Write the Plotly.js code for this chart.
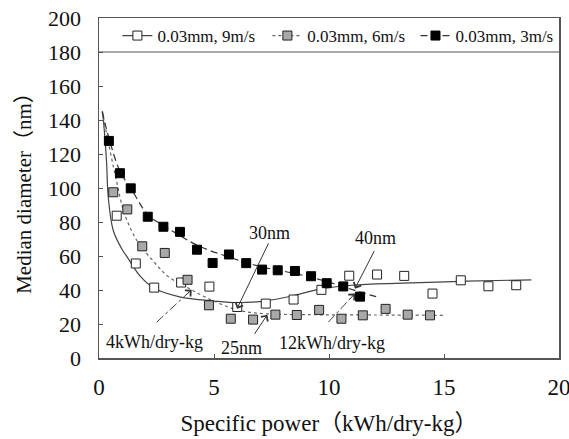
<!DOCTYPE html>
<html>
<head>
<meta charset="utf-8">
<script src="https://cdn.plot.ly/plotly-3.0.1.min.js"></script>
<style>
  html, body { margin: 0; padding: 0; background: #fff; }
  #chart { width: 569px; height: 439px; }
</style>
</head>
<body>
<div id="chart"></div>
<script>
// Measured median diameters (nm) versus specific power (kWh/dry-kg)
const seriesNames = ['0.03mm, 9m/s', '0.03mm, 6m/s', '0.03mm, 3m/s'];

const power9 = [0.77, 1.60, 2.40, 3.57, 4.80, 6.01, 7.25, 8.46, 9.67, 10.88, 12.09, 13.27, 14.50, 15.73, 16.93, 18.14];
const diam9  = [83.7, 55.6, 41.4, 44.4, 42.0, 30.0, 32.0, 34.4, 40.1, 48.4, 49.1, 48.3, 37.9, 45.7, 42.2, 42.8];

const power6 = [0.62, 1.23, 1.88, 2.86, 3.85, 4.78, 5.73, 6.70, 7.67, 8.60, 9.57, 10.54, 11.47, 12.46, 13.42, 14.39];
const diam6  = [97.5, 87.4, 65.7, 61.8, 46.0, 31.0, 23.1, 22.6, 25.5, 25.3, 28.3, 23.1, 25.1, 28.9, 25.5, 25.1];

const power3 = [0.43, 0.91, 1.38, 2.12, 2.80, 3.52, 4.26, 4.94, 5.65, 6.40, 7.09, 7.77, 8.52, 9.22, 9.90, 10.62, 11.35];
const diam3  = [127.7, 108.7, 99.8, 83.1, 77.2, 74.2, 63.7, 55.9, 60.9, 55.8, 52.0, 51.6, 51.2, 48.1, 44.0, 42.1, 36.1];

// Trend curves traced along each series
const fitPower9 = [0.15, 0.23, 0.33, 0.40, 0.62, 1.0, 1.27, 1.8, 2.4, 3.5, 5.0, 6.0, 7.2, 8.4, 9.6, 11.0, 13.2, 16.0, 18.8];
const fitDiam9  = [145, 134, 115, 95, 75, 64, 58.5, 48, 41, 36, 33.5, 32.5, 33.5, 36.5, 40.5, 42.8, 44, 45.2, 46];

const fitPower6 = [0.14, 0.33, 0.7, 1.13, 1.7, 2.36, 3.0, 3.9, 4.9, 6.1, 7.3, 9.0, 12.0, 15.0];
const fitDiam6  = [145, 132, 108, 84, 68, 57, 48, 41, 34, 28, 26, 25.5, 25.3, 25.1];

const fitPower3 = [0.14, 0.48, 0.91, 1.42, 2.14, 2.8, 3.52, 4.32, 5.62, 7.07, 8.52, 9.97, 11.3, 12.2];
const fitDiam3  = [145, 127, 110, 99, 84, 78, 72, 66, 59.5, 53.6, 49.7, 44.7, 39, 35.5];

const xTicks = [0, 5, 10, 15, 20];
const yTicks = [0, 20, 40, 60, 80, 100, 120, 140, 160, 180, 200];

const serif = 'Liberation Serif, "Noto Sans CJK JP", serif';
const axisColor = '#555';

const lineStyles = [
  { color: '#444', width: 1.2, dash: 'solid' },
  { color: '#666', width: 1.2, dash: '3px,3px' },
  { color: '#333', width: 1.2, dash: '7px,4px' }
];
const markerStyles = [
  { symbol: 'square', size: 9, color: '#ffffff', line: { color: '#222', width: 1 } },
  { symbol: 'square', size: 9, color: '#a8a8a8', line: { color: '#222', width: 1 } },
  { symbol: 'square', size: 9, color: '#000000', line: { color: '#000', width: 1 } }
];

const fits = [[fitPower9, fitDiam9], [fitPower6, fitDiam6], [fitPower3, fitDiam3]];
const points = [[power9, diam9], [power6, diam6], [power3, diam3]];
const legendIds = ['legend', 'legend2', 'legend3'];

const traces = [];
fits.forEach((f, i) => {
  traces.push({
    x: f[0], y: f[1], type: 'scatter', mode: 'lines',
    line: Object.assign({ shape: 'spline', smoothing: 1 }, lineStyles[i]),
    showlegend: false, hoverinfo: 'skip'
  });
});
points.forEach((p, i) => {
  traces.push({
    x: p[0], y: p[1], type: 'scatter', mode: 'markers',
    marker: markerStyles[i], showlegend: false
  });
});
// Legend keys: line plus marker for each series, one legend box per key
seriesNames.forEach((name, i) => {
  traces.push({
    x: [null], y: [null], type: 'scatter', mode: 'lines+markers', name: name,
    line: lineStyles[i], marker: markerStyles[i], legend: legendIds[i], showlegend: true
  });
});

const annFont = { family: serif, size: 18, color: '#111' };
const annotations = [
  // labels
  { x: 7.43, y: 73.5, text: '30nm', showarrow: false, font: annFont },
  { x: 12.0, y: 70.5, text: '40nm', showarrow: false, font: annFont },
  { x: 6.2, y: 5.6, text: '25nm', showarrow: false, font: annFont },
  { x: 2.43, y: 9.3, text: '4kWh/dry-kg', showarrow: false, font: annFont },
  { x: 10.13, y: 8.6, text: '12kWh/dry-kg', showarrow: false, font: annFont },
  // solid pointers
  { x: 6.0, y: 29, ax: 7.40, ay: 68.3, axref: 'x', ayref: 'y', text: '', showarrow: true,
    arrowhead: 4, arrowsize: 1.6, arrowwidth: 1, arrowcolor: '#333' },
  { x: 11.13, y: 40.8, ax: 12.0, ay: 63.8, axref: 'x', ayref: 'y', text: '', showarrow: true,
    arrowhead: 4, arrowsize: 1.6, arrowwidth: 1, arrowcolor: '#333' },
  { x: 7.32, y: 25.5, ax: 6.72, ay: 13.3, axref: 'x', ayref: 'y', text: '', showarrow: true,
    arrowhead: 4, arrowsize: 1.6, arrowwidth: 1, arrowcolor: '#333' },
  // heads for the dash-dot pointers
  { x: 4.03, y: 40.2, ax: -7.3, ay: 6.8, text: '', showarrow: true,
    arrowhead: 4, arrowsize: 1.6, arrowwidth: 1, arrowcolor: '#333' },
  { x: 11.13, y: 37.9, ax: -6.9, ay: 7.3, text: '', showarrow: true,
    arrowhead: 4, arrowsize: 1.6, arrowwidth: 1, arrowcolor: '#333' }
];

const shapes = [
  // rule under the legend row
  { type: 'line', xref: 'paper', yref: 'y', x0: 0, x1: 1, y0: 180, y1: 180,
    line: { color: axisColor, width: 1.2 } },
  // dash-dot pointer shafts
  { type: 'line', xref: 'x', yref: 'y', x0: 2.51, y0: 21.1, x1: 4.03, y1: 40.2,
    line: { color: '#444', width: 1, dash: 'dashdot' } },
  { type: 'line', xref: 'x', yref: 'y', x0: 9.97, y0: 21.1, x1: 11.13, y1: 37.9,
    line: { color: '#444', width: 1, dash: 'dashdot' } }
];

function legendBox(xPos) {
  return {
    orientation: 'h', x: xPos, y: 1.0, xanchor: 'left', yanchor: 'top',
    bgcolor: 'rgba(0,0,0,0)', borderwidth: 0,
    font: { family: serif, size: 17, color: '#111' }, itemwidth: 30
  };
}

const layout = {
  width: 569, height: 439,
  margin: { l: 99, r: 10, t: 18, b: 81 },
  paper_bgcolor: '#fff', plot_bgcolor: '#fff',
  font: { family: serif, color: '#111' },
  showlegend: true,
  legend: legendBox(0.04),
  legend2: legendBox(0.366),
  legend3: legendBox(0.688),
  xaxis: {
    range: [0, 20], tickvals: xTicks, ticktext: xTicks.map(String),
    ticks: 'inside', ticklen: 4, tickcolor: axisColor, ticklabelstandoff: 8,
    ticklabeloverflow: 'allow',
    showline: true, linecolor: axisColor, linewidth: 1.5, mirror: true,
    showgrid: false, zeroline: false,
    tickfont: { family: serif, size: 23, color: '#111' },
    title: { text: 'Specific power（kWh/dry-kg）', font: { family: serif, size: 23, color: '#111' }, standoff: 16 }
  },
  yaxis: {
    range: [0, 200], tickvals: yTicks, ticktext: yTicks.map(String),
    ticks: 'inside', ticklen: 4, tickcolor: axisColor, ticklabelstandoff: 12,
    ticklabeloverflow: 'allow',
    showline: true, linecolor: axisColor, linewidth: 1.5, mirror: true,
    showgrid: false, zeroline: false,
    tickfont: { family: serif, size: 22, color: '#111' },
    title: { text: 'Median diameter（nm）', font: { family: serif, size: 21, color: '#111' }, standoff: 10 }
  },
  annotations: annotations,
  shapes: shapes
};

Plotly.newPlot('chart', traces, layout, { staticPlot: true, displayModeBar: false });
</script>
</body>
</html>
